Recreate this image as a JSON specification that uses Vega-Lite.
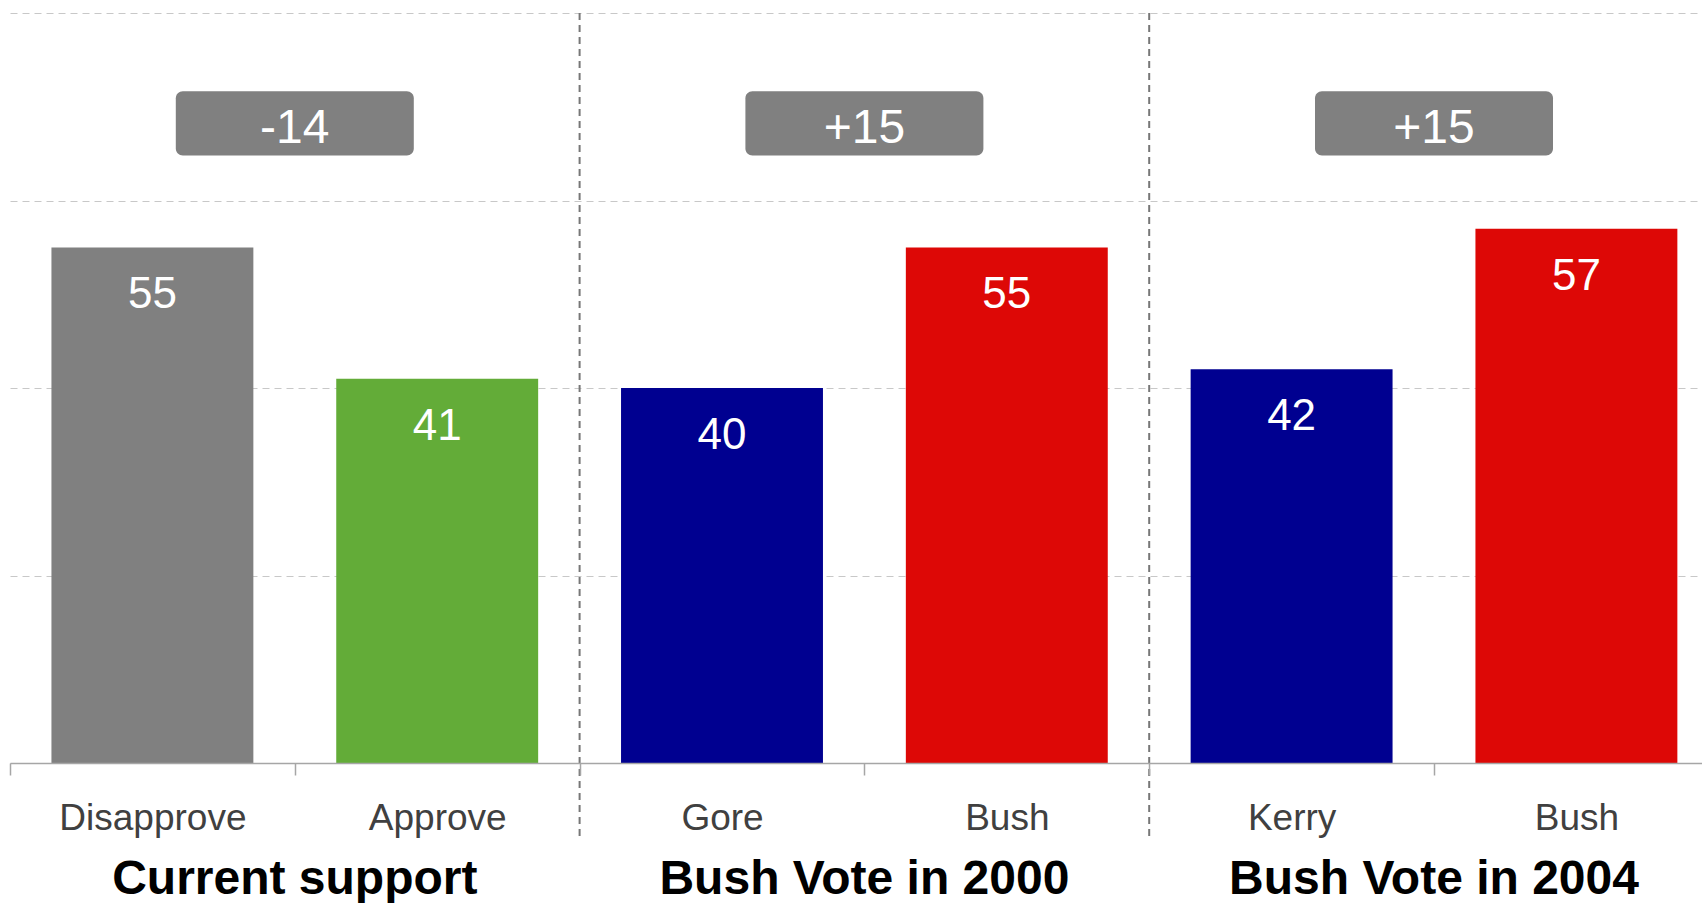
{
  "$schema": "https://vega.github.io/schema/vega-lite/v6.json",
  "width": 1692,
  "height": 750,
  "autosize": {"type": "none"},
  "padding": {"left": 10, "top": 13, "right": 0, "bottom": 140},
  "background": "white",
  "config": {"view": {"stroke": null}, "font": "Liberation Sans"},
  "datasets": {
    "bars": [
      {"key": "Disapprove", "group": "Current support", "value": 55},
      {"key": "Approve", "group": "Current support", "value": 41},
      {"key": "Gore", "group": "Bush Vote in 2000", "value": 40},
      {"key": "Bush 2000", "group": "Bush Vote in 2000", "value": 55},
      {"key": "Kerry", "group": "Bush Vote in 2004", "value": 42},
      {"key": "Bush 2004", "group": "Bush Vote in 2004", "value": 57}
    ],
    "groups": [
      {"group": "Current support", "diff": "-14"},
      {"group": "Bush Vote in 2000", "diff": "+15"},
      {"group": "Bush Vote in 2004", "diff": "+15"}
    ]
  },
  "layer": [
    {
      "data": {"name": "bars"},
      "encoding": {
        "x": {
          "field": "key",
          "type": "nominal",
          "sort": null,
          "scale": {
            "domain": ["Disapprove", "Approve", "Gore", "Bush 2000", "Kerry", "Bush 2004"],
            "range": [0, 1708.8],
            "paddingInner": 0,
            "paddingOuter": 0
          },
          "axis": {
            "title": null,
            "labelExpr": "split(datum.label, ' ')[0]",
            "labelFontSize": 37,
            "labelColor": "#404040",
            "labelFont": "Liberation Sans",
            "labelPadding": 54,
            "labelBaseline": "alphabetic",
            "labelLimit": 400,
            "labelAngle": 0,
            "tickBand": "extent",
            "tickSize": 12,
            "tickColor": "#a6a6a6",
            "tickWidth": 1.5,
            "domainColor": "#a6a6a6",
            "domainWidth": 1.5,
            "grid": false,
            "zindex": 1
          }
        },
        "y": {
          "field": "value",
          "type": "quantitative",
          "scale": {"domain": [0, 80]},
          "axis": {"title": null, "values": [0, 20, 40, 60, 80], "grid": true, "gridDash": [7, 5], "gridColor": "#c8c8c8", "gridWidth": 1, "labels": false, "ticks": false, "domain": false, "zindex": 0}
        }
      },
      "layer": [
        {
          "mark": {"type": "bar", "width": {"band": 0.709}},
          "encoding": {
            "color": {
              "field": "key",
              "type": "nominal",
              "legend": null,
              "scale": {
                "domain": ["Disapprove", "Approve", "Gore", "Bush 2000", "Kerry", "Bush 2004"],
                "range": ["#808080", "#63ac38", "#000090", "#dd0806", "#000090", "#dd0806"]
              }
            }
          }
        },
        {
          "mark": {"type": "text", "color": "white", "fontSize": 44, "font": "Liberation Sans", "baseline": "alphabetic", "align": "center", "dy": 61},
          "encoding": {"text": {"field": "value", "type": "quantitative"}}
        }
      ]
    },
    {
      "data": {"name": "groups"},
      "layer": [
        {
          "transform": [{"filter": "datum.group !== 'Current support'"}],
          "mark": {"type": "rule", "color": "#777777", "strokeWidth": 2, "strokeDash": [7, 5]},
          "encoding": {
            "x": {
              "field": "group", "type": "nominal", "sort": null, "bandPosition": 0,
              "scale": {"domain": ["Current support", "Bush Vote in 2000", "Bush Vote in 2004"], "range": [0, 1708.8], "paddingInner": 0, "paddingOuter": 0},
              "axis": {"orient": "bottom", "title": null, "ticks": false, "tickSize": 0, "domain": false, "grid": false, "labelFontSize": 48, "labelFontWeight": "bold", "labelColor": "black", "labelFont": "Liberation Sans", "labelPadding": 130, "labelBaseline": "alphabetic", "labelLimit": 800, "labelAngle": 0}
            },
            "y": {"datum": 80, "type": "quantitative", "scale": {"domain": [0, 80]}, "axis": {"title": null, "values": [0, 20, 40, 60, 80], "grid": true, "gridDash": [7, 5], "gridColor": "#c8c8c8", "gridWidth": 1, "labels": false, "ticks": false, "domain": false, "zindex": 0}},
            "y2": {"datum": -8}
          }
        },
        {
          "mark": {"type": "bar", "width": 238, "cornerRadius": 7, "color": "#808080"},
          "encoding": {
            "x": {
              "field": "group", "type": "nominal", "sort": null,
              "scale": {"domain": ["Current support", "Bush Vote in 2000", "Bush Vote in 2004"], "range": [0, 1708.8], "paddingInner": 0, "paddingOuter": 0},
              "axis": {"orient": "bottom", "title": null, "ticks": false, "tickSize": 0, "domain": false, "grid": false, "labelFontSize": 48, "labelFontWeight": "bold", "labelColor": "black", "labelFont": "Liberation Sans", "labelPadding": 130, "labelBaseline": "alphabetic", "labelLimit": 800, "labelAngle": 0}
            },
            "y": {"datum": 64.8, "type": "quantitative", "scale": {"domain": [0, 80]}, "axis": {"title": null, "values": [0, 20, 40, 60, 80], "grid": true, "gridDash": [7, 5], "gridColor": "#c8c8c8", "gridWidth": 1, "labels": false, "ticks": false, "domain": false, "zindex": 0}},
            "y2": {"datum": 71.66}
          }
        },
        {
          "mark": {"type": "text", "color": "white", "fontSize": 48, "font": "Liberation Sans", "baseline": "alphabetic", "align": "center"},
          "encoding": {
            "x": {
              "field": "group", "type": "nominal", "sort": null,
              "scale": {"domain": ["Current support", "Bush Vote in 2000", "Bush Vote in 2004"], "range": [0, 1708.8], "paddingInner": 0, "paddingOuter": 0},
              "axis": {"orient": "bottom", "title": null, "ticks": false, "tickSize": 0, "domain": false, "grid": false, "labelFontSize": 48, "labelFontWeight": "bold", "labelColor": "black", "labelFont": "Liberation Sans", "labelPadding": 130, "labelBaseline": "alphabetic", "labelLimit": 800, "labelAngle": 0}
            },
            "y": {"datum": 66.17, "type": "quantitative", "scale": {"domain": [0, 80]}, "axis": {"title": null, "values": [0, 20, 40, 60, 80], "grid": true, "gridDash": [7, 5], "gridColor": "#c8c8c8", "gridWidth": 1, "labels": false, "ticks": false, "domain": false, "zindex": 0}},
            "text": {"field": "diff", "type": "nominal"}
          }
        }
      ]
    }
  ],
  "resolve": {"scale": {"x": "independent"}, "axis": {"x": "independent"}}
}
